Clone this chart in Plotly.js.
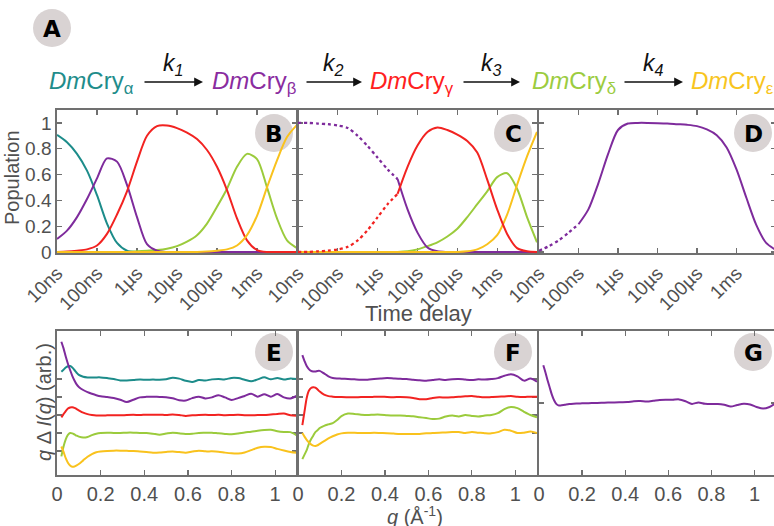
<!DOCTYPE html>
<html><head><meta charset="utf-8">
<script src="https://cdn.plot.ly/plotly-3.0.1.min.js"></script>
<style>html,body{margin:0;padding:0;overflow:hidden;background:#fff}#plot{width:776px;height:526px}</style>
</head><body><div id="plot"></div>
<script>
// ---------- DATA ----------
const timeExp = [-8,-7.75,-7.5,-7.25,-7,-6.75,-6.5,-6.25,-6,-5.75,-5.5,-5.25,-5,-4.75,-4.5,-4.25,-4,-3.75,-3.5,-3.25,-3,-2.75,-2.5,-2.25,-2];
const timeTickVals = [1e-8,1e-7,1e-6,1e-5,1e-4,1e-3];
const timeTickText = ['10ns','100ns','1\u00b5s','10\u00b5s','100\u00b5s','1ms'];

// Panel B populations
const popB_alpha = [0.907,0.85,0.76,0.63,0.44,0.22,0.07,0.01,0,0,0,0,0,0,0,0,0,0,0,0,0,0,0,0,0];
const popB_beta  = [0.10,0.165,0.27,0.41,0.57,0.725,0.70,0.52,0.27,0.06,0.01,0,0,0,0,0,0,0,0,0,0,0,0,0,0];
const popB_gamma = [0,0.003,0.01,0.02,0.05,0.14,0.29,0.47,0.70,0.90,0.975,0.98,0.96,0.925,0.875,0.79,0.66,0.48,0.26,0.09,0.015,0,0,0,0];
const popB_delta = [0,0,0,0,0,0,0,0,0.005,0.01,0.015,0.025,0.045,0.08,0.13,0.22,0.35,0.49,0.66,0.76,0.72,0.50,0.26,0.09,0.03];
const popB_eps   = [0,0,0,0,0,0,0,0,0,0,0,0,0,0,0,0.003,0.01,0.02,0.05,0.13,0.28,0.50,0.71,0.89,0.985];

// Panel C populations (first points dotted)
const popC_beta  = [1.0,1.0,0.995,0.99,0.98,0.96,0.90,0.82,0.73,0.64,0.565,0.33,0.15,0.035,0.005,0,0,0,0,0,0,0,0,0,0];
const popC_gamma = [0,0,0.005,0.01,0.02,0.04,0.09,0.17,0.27,0.37,0.45,0.66,0.825,0.93,0.965,0.945,0.91,0.86,0.77,0.56,0.33,0.14,0.03,0.005,0];
const popC_delta = [0,0,0,0,0,0,0,0,0,0,0,0.005,0.02,0.045,0.075,0.12,0.18,0.27,0.37,0.47,0.58,0.61,0.49,0.27,0.075];
const popC_eps   = [0,0,0,0,0,0,0,0,0,0,0,0,0,0,0,0,0,0.005,0.02,0.06,0.13,0.29,0.52,0.74,0.93];
const splitC = 10;

// Panel D population
const popD_beta = [0.01,0.045,0.09,0.15,0.215,0.33,0.53,0.76,0.945,0.995,1.0,1.0,0.998,0.995,0.99,0.985,0.975,0.95,0.905,0.81,0.64,0.42,0.21,0.07,0.015];
const splitD = 4;

// Difference curves q*dI(q)
const qVals = [0.02,0.03,0.04,0.05,0.06,0.07,0.08,0.09,0.10,0.12,0.14,0.16,0.18,0.20,0.23,0.26,0.29,0.32,0.35,0.38,0.41,0.44,0.47,0.50,0.53,0.56,0.59,0.62,0.65,0.68,0.71,0.74,0.77,0.80,0.83,0.86,0.89,0.92,0.95,0.98,1.01,1.04,1.07,1.10];
const qTickVals = [0,0.2,0.4,0.6,0.8,1];
const qTickText = ['0','0.2','0.4','0.6','0.8','1'];

const dE_alpha = [0.41,0.52,0.64,0.71,0.72,0.64,0.50,0.35,0.23,0.13,0.09,0.08,0.09,0.09,0.05,0.0,-0.08,-0.08,-0.06,-0.03,-0.04,-0.03,-0.04,-0.01,0.07,0.02,-0.10,-0.16,-0.06,-0.08,-0.02,0.0,-0.02,0.06,0.05,-0.04,-0.13,-0.02,0.10,-0.02,0.06,-0.03,0.03,0.0];
const dE_beta  = [3.07,2.7,2.25,1.85,1.5,1.18,0.92,0.70,0.56,0.39,0.27,0.18,0.10,0.04,0.0,-0.05,-0.15,-0.28,-0.15,-0.02,0.01,0.02,0.0,-0.01,-0.07,-0.18,-0.20,-0.06,0.02,-0.08,-0.02,0.10,-0.02,-0.16,-0.06,0.06,0.18,0.02,0.16,0.02,0.17,-0.02,-0.08,0.07];
const dE_gamma = [-0.13,0.05,0.22,0.36,0.42,0.43,0.40,0.33,0.26,0.13,0.05,0.0,-0.03,-0.03,-0.02,-0.01,-0.02,0.0,0.01,0.0,0.02,0.01,0.02,0.0,0.03,0.0,-0.05,-0.02,0.0,0.01,0.0,0.01,-0.01,0.0,0.01,-0.01,-0.02,0.0,0.0,0.03,0.06,0.08,-0.01,-0.04];
const dE_delta = [-1.30,-0.75,-0.35,-0.10,0.0,-0.02,-0.08,-0.15,-0.20,-0.25,-0.22,-0.12,-0.04,0.0,0.02,0.0,0.0,0.02,0.02,0.0,0.0,-0.04,-0.09,-0.03,0.02,-0.02,-0.05,-0.04,0.0,0.01,0.02,-0.02,-0.05,-0.07,-0.03,0.03,0.07,0.13,0.17,0.18,0.10,0.06,0.05,-0.15];
const dE_eps   = [0.25,-0.05,-0.40,-0.65,-0.80,-0.87,-0.86,-0.80,-0.72,-0.52,-0.32,-0.17,-0.07,-0.03,0.0,0.02,0.02,0.01,0.0,-0.03,-0.06,-0.09,-0.08,-0.05,-0.03,-0.06,-0.09,-0.03,0.02,-0.02,-0.02,-0.04,-0.09,-0.13,-0.14,-0.08,0.05,0.18,0.24,0.22,0.12,0.03,-0.05,-0.10];
const offsetsE = [4,3,2,1,0];

const dF_beta  = [1.33,1.0,0.72,0.55,0.45,0.42,0.42,0.45,0.45,0.31,0.15,0.06,0.03,0.02,0.0,-0.02,-0.04,-0.04,0.0,0.03,0.05,0.03,0.01,0.0,-0.04,-0.07,-0.10,-0.06,-0.02,-0.05,-0.01,0.0,-0.03,-0.05,-0.02,-0.03,0.0,0.05,0.18,0.27,0.15,-0.09,0.03,-0.15];
const dF_gamma = [-1.56,-0.80,-0.05,0.35,0.50,0.54,0.52,0.42,0.30,0.13,0.05,0.02,0.0,0.0,-0.01,-0.02,0.0,0.0,0.01,0.02,0.0,-0.01,0.0,-0.01,-0.05,-0.12,-0.12,-0.06,-0.02,-0.03,-0.01,0.02,0.04,0.06,0.01,-0.02,0.0,0.02,0.03,0.05,0.01,0.0,0.02,0.01];
const dF_delta = [-2.45,-2.2,-1.95,-1.6,-1.35,-1.15,-0.95,-0.85,-0.72,-0.60,-0.52,-0.45,-0.28,-0.06,0.08,0.06,0.02,0.0,0.02,0.02,-0.01,-0.03,-0.03,-0.05,-0.07,-0.12,-0.17,-0.22,-0.20,-0.08,-0.03,-0.08,0.0,-0.05,-0.08,-0.03,0.0,0.10,0.33,0.45,0.38,0.18,0.0,-0.12];
const dF_eps   = [0.0,-0.20,-0.38,-0.52,-0.63,-0.70,-0.72,-0.68,-0.60,-0.45,-0.30,-0.18,-0.08,-0.02,0.01,0.01,0.0,0.0,0.01,0.0,-0.01,-0.03,-0.05,-0.06,-0.05,-0.05,-0.02,0.0,0.02,0.03,0.05,0.06,0.0,0.05,0.02,-0.01,-0.02,0.05,0.18,0.13,0.0,0.02,0.08,0.0];
const offsetsF = [3,2,1,0];

const dG_beta = [2.1,1.7,1.25,0.85,0.45,0.15,-0.05,-0.13,-0.14,-0.10,-0.06,-0.04,-0.03,-0.02,-0.01,0.0,0.01,0.03,0.03,0.04,0.05,0.10,0.11,0.08,0.12,0.17,0.18,0.18,0.20,0.10,-0.05,0.03,-0.04,-0.06,-0.05,-0.10,-0.20,-0.11,-0.04,-0.08,-0.22,-0.31,-0.22,0.0];

const speciesSub = ['\u03b1','\u03b2','\u03b3','\u03b4','\u03b5'];
const rateIdx = ['1','2','3','4'];
const panelLetters = ['A','B','C','D','E','F','G'];

// ---------- STYLE ----------
const FONT = 'Liberation Sans, Arial, Helvetica, sans-serif';
const COL = {alpha:'#1c8c8a', beta:'#7e2b9c', gamma:'#f22321', delta:'#9bcb3c', eps:'#f9c21d'};
const SCOL = ['#1f8d8b','#8a2ca0','#ff2020','#9ccc3f','#f8c51e'];
const AXC = '#707070';
const TXC = '#505050';
const W = 776, H = 526;
const xd = (a,b)=>[a/W, b/W];
const yd = (top,bot)=>[1-bot/H, 1-top/H];
const T = timeExp.map(e=>Math.pow(10,e));

function line(x,y,color,xa,ya,dash){
  return {x:x,y:y,xaxis:xa,yaxis:ya,type:'scatter',mode:'lines',hoverinfo:'skip',showlegend:false,
          line:{color:color,width:dash?2.3:2.0,shape:'spline',smoothing:0.8,dash:dash||'solid'}};
}
const sl = (arr,a,b)=>arr.slice(a,b);
const add = (arr,o)=>arr.map(v=>v+o);

const traces = [
  // B
  line(T,popB_alpha,COL.alpha,'x','y'),
  line(T,popB_delta,COL.delta,'x','y'),
  line(T,popB_beta,COL.beta,'x','y'),
  line(T,popB_gamma,COL.gamma,'x','y'),
  line(T,popB_eps,COL.eps,'x','y'),
  // C
  line(T,popC_delta,COL.delta,'x2','y2'),
  line(sl(T,0,splitC+1),sl(popC_beta,0,splitC+1),COL.beta,'x2','y2','dot'),
  line(sl(T,splitC),sl(popC_beta,splitC),COL.beta,'x2','y2'),
  line(T,popC_eps,COL.eps,'x2','y2'),
  line(sl(T,splitC),sl(popC_gamma,splitC),COL.gamma,'x2','y2'),
  line(sl(T,0,splitC+1),sl(popC_gamma,0,splitC+1),COL.gamma,'x2','y2','dot'),
  // D
  line(sl(T,0,splitD+1),sl(popD_beta,0,splitD+1),COL.beta,'x3','y3','dot'),
  line(sl(T,splitD),sl(popD_beta,splitD),COL.beta,'x3','y3'),
  // E
  line(qVals,add(dE_alpha,offsetsE[0]),COL.alpha,'x4','y4'),
  line(qVals,add(dE_beta,offsetsE[1]),COL.beta,'x4','y4'),
  line(qVals,add(dE_gamma,offsetsE[2]),COL.gamma,'x4','y4'),
  line(qVals,add(dE_delta,offsetsE[3]),COL.delta,'x4','y4'),
  line(qVals,add(dE_eps,offsetsE[4]),COL.eps,'x4','y4'),
  // F
  line(qVals,add(dF_beta,offsetsF[0]),COL.beta,'x5','y5'),
  line(qVals,add(dF_gamma,offsetsF[1]),COL.gamma,'x5','y5'),
  line(qVals,add(dF_delta,offsetsF[2]),COL.delta,'x5','y5'),
  line(qVals,add(dF_eps,offsetsF[3]),COL.eps,'x5','y5'),
  // G
  line(qVals,dG_beta,COL.beta,'x6','y6')
];

const base = {showline:true,linecolor:AXC,linewidth:1.7,mirror:'ticks',ticks:'inside',ticklen:5,
  tickcolor:AXC,tickwidth:1.3,showgrid:false,zeroline:false,layer:'below traces',
  tickfont:{family:FONT,size:19,color:TXC}};
function tx(dom,anchor,labels){
  return Object.assign({},base,{type:'log',range:[-8,-2],domain:dom,anchor:anchor,
    tickvals:timeTickVals,ticktext:timeTickText,tickangle:-45,showticklabels:labels});
}
function ty(anchor,labels){
  return Object.assign({},base,{range:[-0.008,1.1],domain:yd(110,253),anchor:anchor,
    tickvals:[0,0.2,0.4,0.6,0.8,1],ticktext:['0','0.2','0.4','0.6','0.8','1'],showticklabels:labels,
    tickfont:{family:FONT,size:19,color:TXC}});
}
function qx(dom,anchor){
  return Object.assign({},base,{range:[0,1.1],domain:dom,anchor:anchor,tickvals:qTickVals,ticktext:qTickText,
    tickfont:{family:FONT,size:20,color:TXC}});
}
function qy(anchor,range,tv){
  return Object.assign({},base,{range:range,domain:yd(331,475),anchor:anchor,tickvals:tv,showticklabels:false});
}

const shapes = [];
const annotations = [];
const circ = [[52,28],[274,133],[513,133],[753,133],[274,352],[513,352],[753,352]];
circ.forEach((c,i)=>{
  const r = 19;
  shapes.push({type:'circle',xref:'paper',yref:'paper',x0:(c[0]-r)/W,x1:(c[0]+r)/W,y0:1-(c[1]+r)/H,y1:1-(c[1]-r)/H,
    fillcolor:'#d9d3d3',line:{width:0},layer:'below'});
  annotations.push({x:c[0]/W,y:1-(c[1]+1)/H,xref:'paper',yref:'paper',text:'<b>'+panelLetters[i]+'</b>',showarrow:false,
    xanchor:'center',yanchor:'middle',font:{family:'DejaVu Sans, sans-serif',size:23,color:'#000'}});
});

// reaction scheme
const specX = [47,210,368,530,689];
speciesSub.forEach((s,i)=>{
  annotations.push({x:specX[i]/W,y:1-82/H,xref:'paper',yref:'paper',xanchor:'left',yanchor:'middle',showarrow:false,
    text:'<i>Dm</i>Cry<sub>'+s+'</sub>',font:{family:FONT,size:24,color:SCOL[i]}});
});
const arrows = [[143,203],[305,362],[462,520],[623,683]];
arrows.forEach((a,i)=>{
  annotations.push({x:a[1]/W,y:1-82/H,xref:'paper',yref:'paper',ax:-(a[1]-a[0]),ay:0,text:'',showarrow:true,
    arrowhead:2,arrowsize:1.1,arrowwidth:1.6,arrowcolor:'#111'});
  annotations.push({x:(a[0]+a[1])/2/W,y:1-64/H,xref:'paper',yref:'paper',xanchor:'center',yanchor:'middle',showarrow:false,
    text:'<i>k</i><sub><i>'+rateIdx[i]+'</i></sub>',font:{family:FONT,size:23,color:'#111'}});
});
// axis titles
annotations.push({x:12/W,y:1-178/H,xref:'paper',yref:'paper',text:'Population',textangle:-90,showarrow:false,
  xanchor:'center',yanchor:'middle',font:{family:FONT,size:20,color:TXC}});
annotations.push({x:418/W,y:1-313/H,xref:'paper',yref:'paper',text:'Time delay',showarrow:false,
  xanchor:'center',yanchor:'middle',font:{family:FONT,size:22,color:TXC}});
annotations.push({x:44/W,y:1-402/H,xref:'paper',yref:'paper',text:'<i>q</i> \u0394 <i>I</i>(<i>q</i>) (arb.)',textangle:-90,showarrow:false,
  xanchor:'center',yanchor:'middle',font:{family:FONT,size:20,color:TXC}});
annotations.push({x:415/W,y:1-515/H,xref:'paper',yref:'paper',text:'<i>q</i> (\u00c5<sup>-1</sup>)',showarrow:false,
  xanchor:'center',yanchor:'middle',font:{family:FONT,size:20,color:TXC}});

const layout = {
  width:W,height:H,margin:{l:0,r:0,t:0,b:0},paper_bgcolor:'#fff',plot_bgcolor:'rgba(0,0,0,0)',
  showlegend:false,hovermode:false,
  xaxis:tx(xd(57,297),'y',true), yaxis:ty('x',true),
  xaxis2:tx(xd(298,537),'y2',true), yaxis2:ty('x2',false),
  xaxis3:tx(xd(539,776),'y3',true), yaxis3:ty('x3',false),
  xaxis4:qx(xd(57,297),'y4'), yaxis4:qy('x4',[-1.333,6.667],[0,1,2,3,4]),
  xaxis5:qx(xd(298,537),'y5'), yaxis5:qy('x5',[-2.333,5.667],[0,1,2,3]),
  xaxis6:qx(xd(539,776),'y6'), yaxis6:qy('x6',[-4,4],[0]),
  shapes:shapes, annotations:annotations
};
Plotly.newPlot('plot',traces,layout,{displayModeBar:false,staticPlot:true,responsive:false});
</script>
</body></html>
